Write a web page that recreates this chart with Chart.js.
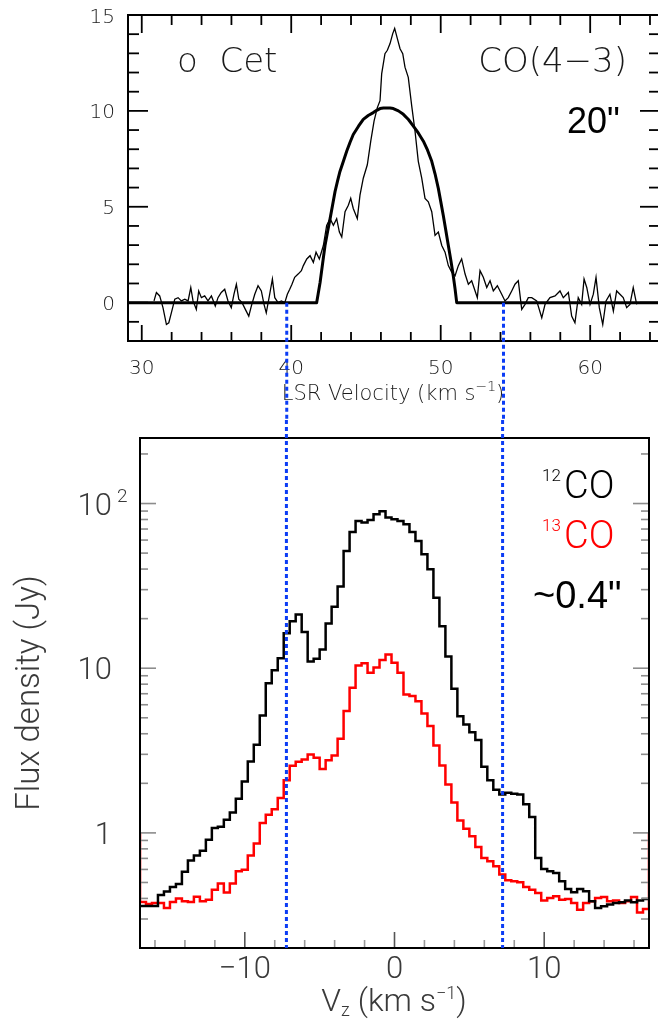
<!DOCTYPE html>
<html><head><meta charset="utf-8">
<script src="https://cdn.jsdelivr.net/npm/chart.js@4/dist/chart.umd.min.js"></script>
<style>
html,body{margin:0;padding:0;background:#fff;overflow:hidden;width:658px;height:1019px;}
#c1{position:absolute;left:0;top:0;}
#c2{position:absolute;left:0;top:420px;}
</style></head><body>
<canvas id="c1" width="664" height="420"></canvas>
<canvas id="c2" width="658" height="599"></canvas>
<script>
// ---------- Top panel: CO(4-3) single dish spectrum ----------
const specV = [30.82,30.98,31.20,31.42,31.65,31.81,31.98,32.21,32.43,32.65,32.88,33.10,33.28,33.43,33.65,33.81,33.99,34.21,34.43,34.66,34.92,35.10,35.32,35.55,35.77,35.99,36.17,36.33,36.49,36.71,36.93,37.16,37.33,37.56,37.78,38.00,38.18,38.33,38.56,38.74,38.90,39.12,39.34,39.57,39.74,39.90,40.05,40.23,40.46,40.68,40.81,41.04,41.26,41.48,41.66,41.88,42.15,42.37,42.60,42.82,43.04,43.22,43.38,43.60,43.82,43.98,44.15,44.42,44.60,44.82,45.09,45.32,45.54,45.76,45.94,46.05,46.27,46.43,46.61,46.79,46.92,47.10,47.28,47.46,47.61,47.83,48.06,48.28,48.50,48.73,48.95,49.17,49.40,49.62,49.84,50.07,50.29,50.51,50.74,50.96,51.18,51.40,51.63,51.85,52.07,52.30,52.45,52.63,52.85,53.08,53.30,53.52,53.79,54.08,54.30,54.52,54.75,54.97,55.19,55.42,55.64,55.86,56.09,56.42,56.76,56.98,57.31,57.65,57.98,58.20,58.54,58.76,58.98,59.20,59.43,59.59,59.77,59.99,60.21,60.39,60.61,60.84,61.06,61.32,61.55,61.77,61.99,62.21,62.44,62.66,62.88,63.11];
const specT = [0.09,0.53,0.35,-0.26,-1.14,-1.05,-0.53,0.18,0.26,0.09,0.18,0.09,0.79,0.09,-0.35,0.61,0.26,0.35,0.09,0.35,-0.18,0.26,0.53,0.70,0.09,-0.26,0.44,0.96,0.18,0.0,-0.35,-0.70,-0.18,0.44,0.88,0.61,-0.09,-0.53,0.44,1.23,0.26,0.0,0.09,0.0,0.44,0.70,0.96,1.32,1.49,1.67,1.93,2.28,2.45,2.10,2.63,2.28,2.98,4.03,4.38,4.03,4.38,3.68,3.42,4.74,5.08,5.44,4.91,4.38,5.61,6.49,7.19,8.42,9.47,10.17,10.53,11.93,12.98,13.16,13.51,14.03,14.30,13.77,13.24,12.98,12.28,11.75,10.26,8.95,7.37,6.49,5.44,5.26,4.74,3.51,3.68,2.98,2.63,1.93,1.58,1.40,1.93,2.28,1.49,0.96,1.14,0.61,0.26,1.67,1.32,0.79,1.14,0.61,0.88,0.44,0.09,0.26,0.61,0.96,1.14,-0.35,-0.09,0.26,0.26,0.09,-0.79,-0.09,0.26,0.35,0.61,0.26,0.53,-0.70,-1.05,0.26,-0.09,1.23,0.79,-0.09,0.44,1.32,-0.26,-1.14,0.09,0.44,-0.44,0.61,0.44,0.26,-0.26,-0.09,0.79,-0.09];
const modelV = [29.0,41.7,41.8,41.93,42.1,42.26,42.43,42.6,42.77,42.93,43.1,43.26,43.5,43.71,43.93,44.15,44.5,44.82,45.15,45.49,45.72,45.94,46.17,46.39,46.61,46.83,47.17,47.5,47.84,48.17,48.5,48.84,49.12,49.4,49.62,49.84,50.0,50.17,50.34,50.51,50.68,50.84,50.96,51.07,64.7];
const modelT = [0,0,0.45,1.05,2.05,2.98,3.7,4.38,5.1,5.79,6.35,6.84,7.4,7.89,8.35,8.77,9.2,9.56,9.76,9.91,10.03,10.12,10.15,10.15,10.15,10.12,10.0,9.82,9.55,9.21,8.85,8.42,7.95,7.37,6.72,5.96,5.28,4.56,3.78,2.98,2.2,1.4,0.72,0,0];
const topXLabels = [30,40,50,60];
const topYLabels = [0,5,10,15];
const markTopV = [39.7, 54.2];

// ---------- Bottom panel: ALMA 12CO / 13CO spectra ----------
const vzEdges = [-17.0,-16.6,-16.2,-15.8,-15.4,-15.0,-14.6,-14.2,-13.8,-13.4,-13.0,-12.6,-12.2,-11.8,-11.4,-11.0,-10.6,-10.2,-9.8,-9.4,-9.0,-8.6,-8.2,-7.8,-7.4,-7.0,-6.6,-6.2,-5.8,-5.4,-5.0,-4.6,-4.2,-3.8,-3.4,-3.0,-2.6,-2.2,-1.8,-1.4,-1.0,-0.6,-0.2,0.2,0.6,1.0,1.4,1.8,2.2,2.6,3.0,3.4,3.8,4.2,4.6,5.0,5.4,5.8,6.2,6.6,7.0,7.4,7.8,8.2,8.6,9.0,9.4,9.8,10.2,10.6,11.0,11.4,11.8,12.2,12.6,13.0,13.4,13.8,14.2,14.6,15.0,15.4,15.8,16.2,16.6,17.0];
const co12 = [0.36,0.36,0.36,0.42,0.44,0.47,0.49,0.58,0.68,0.73,
 0.78,0.91,1.07,1.09,1.20,1.33,1.61,2.05,2.71,3.43,
 5.16,8.09,9.73,11.5,16.3,19.3,21.2,16.6,11.0,11.4,
 13.0,18.7,23.6,31.3,51.5,67.2,78.3,76.6,79.4,86.1,
 89.8,82.2,80.3,78.3,74.8,67.2,59.3,49.2,39.9,26.8,
 18.0,11.8,7.5,5.1,4.55,4.09,3.66,2.52,2.09,1.83,
 1.71,1.75,1.73,1.71,1.49,1.25,0.705,0.604,0.585,0.571,
 0.508,0.457,0.436,0.457,0.442,0.384,0.350,0.358,0.367,0.375,
 0.379,0.389,0.379,0.389,0.397];
const co13 = [0.38,0.37,0.375,0.375,0.35,0.38,0.40,0.384,0.38,0.41,
 0.384,0.393,0.452,0.492,0.435,0.492,0.584,0.598,0.728,0.861,
 1.15,1.29,1.39,1.63,2.09,2.56,2.70,2.79,2.99,2.86,
 2.44,2.76,2.95,3.73,5.49,7.61,10.4,10.7,9.40,10.1,
 11.2,12.1,10.8,9.40,6.93,6.77,6.31,5.31,4.45,3.39,
 2.57,1.97,1.53,1.19,1.06,0.954,0.822,0.705,0.672,0.627,
 0.558,0.515,0.508,0.501,0.470,0.452,0.432,0.389,0.403,0.412,
 0.393,0.397,0.375,0.342,0.375,0.384,0.403,0.408,0.384,0.389,
 0.375,0.384,0.408,0.329,0.345];
const co13EndLevels = [1.0, 1.0];
const botXLabels = [-10,0,10];
const botYLabels = [1,10,100];
const markVz = [-7.22, 7.22];

// ---------- helpers ----------
const BLUE = '#0b3cf5';
function seg(ctx,x1,y1,x2,y2){ctx.beginPath();ctx.moveTo(x1,y1);ctx.lineTo(x2,y2);ctx.stroke();}
function runs(ctx, items, x, y, align){
  let w=0; items.forEach(it=>{ctx.font=it[1]; w+=ctx.measureText(it[0]).width;});
  let cx = align==='center'? x-w/2 : (align==='right'? x-w : x);
  ctx.textAlign='left'; ctx.textBaseline='alphabetic';
  items.forEach(it=>{ctx.font=it[1]; if(it[3]) ctx.fillStyle=it[3]; ctx.fillText(it[0], cx, y+(it[2]||0)); cx+=ctx.measureText(it[0]).width;});
}
function dotted(ctx, px, y1, y2){
  ctx.save(); ctx.strokeStyle=BLUE; ctx.lineWidth=3; ctx.setLineDash([4,3]);
  seg(ctx,px,y1,px,y2); ctx.restore();
}

const HF = n => `200 ${n}px 'DejaVu Sans'`;
const RF = n => `300 ${n}px Roboto`;
const AF = n => `${n}px 'Liberation Sans', Arial`;

const topDeco = {
  id:'topDeco',
  afterDraw(chart){
    const {ctx, chartArea:a, scales:{x,y}} = chart;
    ctx.save();
    ctx.strokeStyle='#000'; ctx.lineWidth=2;
    ctx.strokeRect(a.left,a.top,a.right-a.left,a.bottom-a.top);
    ctx.lineWidth=1.8;
    for(let v=Math.ceil(y.min); v<=y.max; v++){
      const py=y.getPixelForValue(v); const L=(v%5===0)?20:11;
      seg(ctx,a.left,py,a.left+L,py); seg(ctx,a.right,py,a.right-L,py);
    }
    for(let v=30; v<=x.max; v+=2){
      const px=x.getPixelForValue(v); const M=(v%10===0);
      seg(ctx,px,a.bottom,px,a.bottom-(M?16:9)); seg(ctx,px,a.top,px,a.top+(M?18:10));
    }
    ctx.fillStyle='#1a1a1a';
    ctx.font=HF(20); ctx.textBaseline='alphabetic';
    topYLabels.forEach(v=>{ctx.textAlign='right'; ctx.fillText(String(v), 115, y.getPixelForValue(v)+7.5);});
    topXLabels.forEach(v=>{ctx.textAlign='center'; ctx.fillText(String(v), x.getPixelForValue(v), 374);});
    runs(ctx,[['LSR Velocity (km s',HF(21)],['\u22121',HF(14),-9],[')',HF(21),0]], 393, 400, 'center');
    runs(ctx,[['o  Cet',HF(34)]], 177, 72, 'left');
    runs(ctx,[['CO(4\u22123)',HF(34)]], 627, 72, 'right');
    ctx.fillStyle='#000';
    runs(ctx,[['20"',AF(36)]], 567, 133, 'left');
    markTopV.forEach(v=>dotted(ctx, x.getPixelForValue(v), y.getPixelForValue(0), chart.height));
    ctx.restore();
  }
};

const botDeco = {
  id:'botDeco',
  afterDraw(chart){
    const {ctx, chartArea:a, scales:{x,y}} = chart;
    ctx.save();
    ctx.strokeStyle='#8c8c8c'; ctx.lineWidth=1.6;
    [0.3,0.4,0.5,0.6,0.7,0.8,0.9,1,2,3,4,5,6,7,8,9,10,20,30,40,50,60,70,80,90,100,200].forEach(v=>{
      const py=y.getPixelForValue(v); const M=botYLabels.includes(v); const L=M?16:8;
      seg(ctx,a.left,py,a.left+L,py); seg(ctx,a.right,py,a.right-L,py);
    });
    for(let v=-16; v<=16; v+=2){
      const px=x.getPixelForValue(v); const M=(v%10===0);
      ctx.strokeStyle=M?'#555':'#999';
      seg(ctx,px,a.bottom,px,a.bottom-(M?16:8));
    }
    ctx.strokeStyle='#000'; ctx.lineWidth=2;
    ctx.strokeRect(a.left,a.top,a.right-a.left,a.bottom-a.top);
    ctx.fillStyle='#3a3a3a';
    botYLabels.forEach(v=>{
      const py=y.getPixelForValue(v);
      if(v===100){
        runs(ctx,[['10',RF(31)]], 112, py+11, 'right');
        runs(ctx,[['2',RF(19)]], 117, py-2, 'left');
      } else {
        runs(ctx,[[String(v),RF(31)]], 112, py+11, 'right');
      }
    });
    botXLabels.forEach(v=>{
      const s = v<0 ? '\u2212'+Math.abs(v) : String(v);
      runs(ctx,[[s,RF(31)]], x.getPixelForValue(v), 558, 'center');
    });
    runs(ctx,[['V',RF(32)],['z',RF(18),5],[' (km s',RF(32)],['\u22121',RF(18),-12],[')',RF(32)]], 394, 591, 'center');
    ctx.save(); ctx.translate(39, 273); ctx.rotate(-Math.PI/2);
    runs(ctx,[['Flux density (Jy)',RF(33)]], 0, 0, 'center');
    ctx.restore();
    runs(ctx,[['12',RF(17),0,'#000']], 542, 61, 'left');
    runs(ctx,[['CO',RF(38),0,'#000']], 564, 78, 'left');
    runs(ctx,[['13',RF(17),0,'#ff0000']], 542, 111, 'left');
    runs(ctx,[['CO',RF(38),0,'#ff0000']], 564, 128, 'left');
    runs(ctx,[['~0.4"',AF(38),0,'#000']], 533, 188, 'left');
    markVz.forEach(v=>dotted(ctx, x.getPixelForValue(v), 0, a.bottom));
    ctx.restore();
  }
};

const common = {responsive:false, animation:false, events:[],
  plugins:{legend:{display:false}, tooltip:{enabled:false}}};

new Chart(document.getElementById('c1'), {
  type:'line',
  data:{datasets:[
    {data: specV.map((v,i)=>({x:v,y:specT[i]})), borderColor:'#000', borderWidth:1.3, pointRadius:0, tension:0, fill:false},
    {data: modelV.map((v,i)=>({x:v,y:modelT[i]})), borderColor:'#000', borderWidth:3, pointRadius:0, tension:0, borderJoinStyle:'round', fill:false}
  ]},
  options:Object.assign({}, common, {
    layout:{padding:{top:15,right:4,left:0,bottom:0}},
    scales:{
      x:{type:'linear', min:29.08, max:64.67, grid:{display:false}, border:{display:false}, ticks:{display:false}, afterFit:s=>{s.height=79;}},
      y:{type:'linear', min:-2, max:15, grid:{display:false}, border:{display:false}, ticks:{display:false}, afterFit:s=>{s.width=128;}}
    }
  }),
  plugins:[topDeco]
});

const co12Pts = vzEdges.map((v,i)=>({x:v, y:co12[Math.min(i,co12.length-1)]}));
const co13Pts = [{x:vzEdges[0], y:co13EndLevels[0]}]
  .concat(vzEdges.map((v,i)=>({x:v, y:co13[Math.min(i,co13.length-1)]})))
  .concat([{x:vzEdges[vzEdges.length-1], y:co13EndLevels[1]}]);

new Chart(document.getElementById('c2'), {
  type:'line',
  data:{datasets:[
    {label:'12CO', data:co12Pts, borderColor:'#000', borderWidth:2.5, pointRadius:0, stepped:'before', fill:false},
    {label:'13CO', data:co13Pts, borderColor:'#ff0000', borderWidth:2.5, pointRadius:0, stepped:'before', fill:false}
  ]},
  options:Object.assign({}, common, {
    layout:{padding:{top:18,right:9,left:0,bottom:0}},
    scales:{
      x:{type:'linear', min:-17, max:17, grid:{display:false}, border:{display:false}, ticks:{display:false}, afterFit:s=>{s.height=71;}},
      y:{type:'logarithmic', min:0.2, max:250, grid:{display:false}, border:{display:false}, ticks:{display:false}, afterFit:s=>{s.width=140;}}
    }
  }),
  plugins:[botDeco]
});
</script></body></html>
